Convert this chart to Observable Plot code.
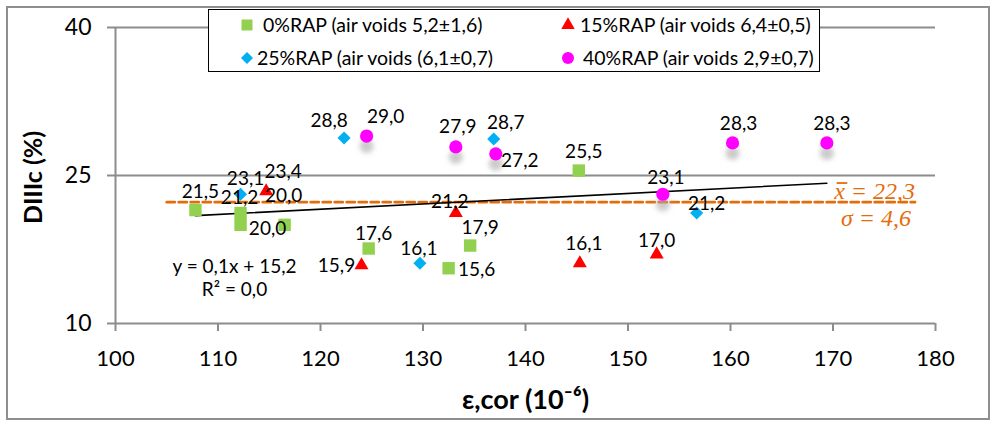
<!DOCTYPE html>
<html>
<head>
<meta charset="utf-8">
<script src="https://cdn.jsdelivr.net/npm/d3@7"></script>
<script src="https://cdn.jsdelivr.net/npm/@observablehq/plot@0.6"></script>
<style>
  html,body{margin:0;padding:0;background:#fff;}
  #wrap{position:relative;width:995px;height:426px;overflow:hidden;font-family:Lato,"Open Sans",sans-serif;}
  #frame{position:absolute;left:6px;top:6px;width:984px;height:414px;border:2px solid #8e8e8e;box-sizing:border-box;pointer-events:none;}
  #legend{position:absolute;left:208px;top:9px;width:612px;height:63px;box-sizing:border-box;border:1.5px solid #000;background:#fff;}
  .sym{position:absolute;overflow:visible;}
  .ltext{position:absolute;font-size:19.5px;color:#000;white-space:nowrap;line-height:1;transform:translateY(-50%);}
</style>
</head>
<body>
<div id="wrap"><div id="chart"></div><div id="legend"></div><div id="frame"></div></div>
<script>
// ---------------- data ----------------
const xTicks = [100, 110, 120, 130, 140, 150, 160, 170, 180];
const yTicks = [10, 25, 40];
const gridTicks = [25, 40];

const seriesNames = [
  "0%RAP (air voids 5,2±1,6)",
  "15%RAP (air voids 6,4±0,5)",
  "25%RAP (air voids (6,1±0,7)",
  "40%RAP (air voids 2,9±0,7)"
];

const rap0X  = [107.8, 112.2, 112.2, 116.5, 124.7, 132.5, 134.6, 145.2];
const rap0Y  = [21.5, 21.2, 20.0, 20.0, 17.6, 15.6, 17.9, 25.5];
const rap15X = [114.7, 124.0, 133.2, 145.3, 152.8];
const rap15Y = [23.4, 15.9, 21.2, 16.1, 17.0];
const rap25X = [112.2, 122.3, 129.7, 136.9, 156.7];
const rap25Y = [23.1, 28.8, 16.1, 28.7, 21.2];
const rap40X = [124.5, 133.2, 137.1, 153.4, 160.2, 169.4];
const rap40Y = [29.0, 27.9, 27.2, 23.1, 28.3, 28.3];

const meanLineX = [105, 178];
const meanValue = 22.3;
const sigmaValue = 4.6;
const trendText = "y = 0,1x + 15,2\nR² = 0,0";
const xTitle = "ε,cor (10⁻⁶)";
const yTitle = "DIIIc (%)";

// ---------------- styles ----------------
const colors = ["#92D050", "#FF0000", "#00B0F0", "#FF00FF"];
const symbols = ["square", "triangle", "diamond2", "circle"];
const radii = [7.0, 5.2, 5.9, 6.6];
const d3Symbols = [d3.symbolSquare, d3.symbolTriangle, d3.symbolDiamond2, d3.symbolCircle];
// label offsets (px) relative to each point
const labelOffsets = [
  [[5,-18],[-1,-15],[27,4],[-1,-29],[5,-15],[28,2],[10,-18],[5,-19]],
  [[17,-19],[-25,1],[-6,-11],[4,-19],[0,-14]],
  [[5,-15],[-15,-17],[-1,-14],[12,-16],[10,-9]],
  [[19,-19],[2,-20],[24,7],[3,-16],[6,-19],[5,-19]]
];
const axisGray = "#8c8c8c";
const orange = "#E46C0A";
const mathFont = "'Liberation Serif', 'DejaVu Serif', serif";

const fmt = v => d3.format(".1f")(v).replace(".", ",");

const seriesX = [rap0X, rap15X, rap25X, rap40X];
const seriesY = [rap0Y, rap15Y, rap25Y, rap40Y];
const points = seriesX.flatMap((xs, si) => xs.map((x, i) => ({
  x, y: seriesY[si][i], si, label: fmt(seriesY[si][i]), off: labelOffsets[si][i]
})));
const meanLine = meanLineX.map(x => ({x, y: meanValue}));

const labelMarks = points.map(p => Plot.text([p], {
  x: "x", y: "y", text: "label", dx: p.off[0], dy: p.off[1],
  fontSize: 19, fill: "#000"
}));

const dotMarks = seriesX.map((xs, si) => Plot.dot(points.filter(p => p.si === si), {
  x: "x", y: "y", symbol: () => symbols[si], r: radii[si], fill: colors[si], stroke: "none"
}));

const chart = Plot.plot({
  width: 995,
  height: 426,
  marginLeft: 115,
  marginRight: 60,
  marginTop: 27,
  marginBottom: 103,
  x: {domain: [100, 180], label: null},
  y: {domain: [10, 40], label: null},
  symbol: {type: "identity"},
  style: {fontFamily: "Lato, 'Open Sans', sans-serif", color: "#000", background: "transparent"},
  marks: [
    Plot.gridY(gridTicks, {stroke: axisGray, strokeOpacity: 1, strokeWidth: 2}),
    Plot.ruleY([10], {stroke: axisGray, strokeWidth: 2}),
    Plot.ruleX([100], {stroke: axisGray, strokeWidth: 2}),
    Plot.axisX({ticks: xTicks, tickSize: 8, tickPadding: 19, stroke: axisGray, strokeWidth: 2, fill: "#000", fontSize: 22, label: null, tickFormat: d => d}),
    Plot.axisY({ticks: yTicks, tickSize: 8, tickPadding: 16, stroke: axisGray, strokeWidth: 2, fill: "#000", fontSize: 23, label: null, tickFormat: d => d}),
    Plot.line(meanLine, {x: "x", y: "y", stroke: orange, strokeWidth: 2.8, strokeDasharray: "8,4"}),
    Plot.linearRegressionY(points, {x: "x", y: "y", stroke: "#000", strokeWidth: 1.6, ci: 0}),
    Plot.dot(points.filter(p => p.si === 3), {x: "x", y: "y", r: 7, fill: "#a8a8a8", fillOpacity: 0.6, dy: 10, ariaDescription: "shadow"}),
    ...dotMarks,
    ...labelMarks,
    Plot.text([`x = ${fmt(meanValue)}`], {x: () => meanLineX[1], y: () => meanValue, text: d => d, textAnchor: "end", dy: -11, fill: orange, fontSize: 24, fontStyle: "italic", fontFamily: mathFont, ariaDescription: "mean"}),
    Plot.text([`σ = ${fmt(sigmaValue)}`], {x: () => meanLineX[1], y: () => meanValue, text: d => d, textAnchor: "end", dx: -4, dy: 16, fill: orange, fontSize: 24, fontStyle: "italic", fontFamily: mathFont}),
    Plot.text([trendText], {frameAnchor: "left", text: d => d, textAnchor: "middle", dx: 119, dy: 102, fontSize: 19, lineHeight: 1.2, fill: "#000"}),
    Plot.text([yTitle], {frameAnchor: "left", text: d => d, textAnchor: "middle", dx: -82, dy: 2, rotate: -90, fontSize: 25, fontWeight: "bold", fill: "#000"}),
    Plot.text([xTitle], {frameAnchor: "bottom", text: d => d, dy: 85, fontSize: 27, fontWeight: "bold", fill: "#000"})
  ]
});

const svgSel = d3.select(chart);
// blur for the circle shadows
const filt = svgSel.insert("defs", ":first-child").append("filter")
  .attr("id", "shadowBlur").attr("x", "-100%").attr("y", "-100%").attr("width", "300%").attr("height", "300%");
filt.append("feGaussianBlur").attr("stdDeviation", 2.6);
svgSel.selectAll('g[aria-description="shadow"]').attr("filter", "url(#shadowBlur)");

document.getElementById("chart").appendChild(chart);

// mean label: overline above the x (needs layout, so after insertion)
svgSel.selectAll('g[aria-description="mean"] text').each(function() {
  const ext = this.getExtentOfChar(0);
  const parent = d3.select(this.parentNode);
  parent.append("line")
    .attr("transform", this.getAttribute("transform"))
    .attr("x1", ext.x + 2.5).attr("x2", ext.x + ext.width + 2.5)
    .attr("y1", ext.y + ext.height * 0.2).attr("y2", ext.y + ext.height * 0.2)
    .attr("stroke", orange).attr("stroke-width", 1.8);
});

// ---------------- legend ----------------
const legendLayout = [
  {sx: 38, tx: 54, cy: 15},
  {sx: 359, tx: 371, cy: 15},
  {sx: 38, tx: 48, cy: 48},
  {sx: 359, tx: 374, cy: 48}
];
const legendRadii = [6.2, 5.0, 5.4, 6.0];
const legend = d3.select("#legend");
seriesNames.forEach((name, i) => {
  const L = legendLayout[i];
  const r = legendRadii[i];
  const s = legend.append("svg").attr("class", "sym")
    .attr("width", 20).attr("height", 20)
    .style("left", (L.sx - 10) + "px").style("top", (L.cy - 10) + "px");
  s.append("path")
    .attr("transform", "translate(10,10)")
    .attr("d", d3.symbol(d3Symbols[i], Math.PI * r * r)())
    .attr("fill", colors[i]);
  legend.append("div").attr("class", "ltext")
    .style("left", L.tx + "px").style("top", L.cy + "px")
    .text(name);
});
</script>
</body>
</html>
